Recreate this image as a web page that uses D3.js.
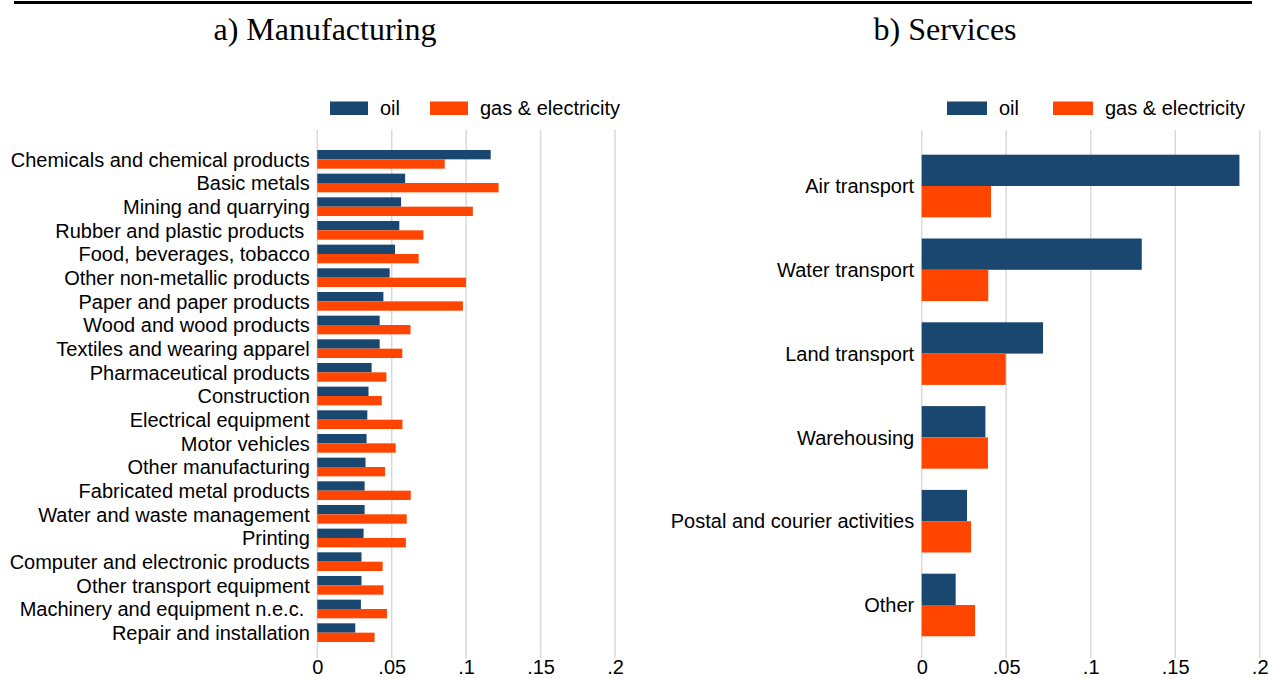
<!DOCTYPE html>
<html>
<head>
<meta charset="utf-8">
<script src="https://cdn.jsdelivr.net/npm/d3@7"></script>
<style>
  html, body { margin: 0; padding: 0; background: #fff; }
  svg { display: block; }
  text { font-family: "Liberation Sans", Arial, Helvetica, sans-serif; fill: #000; }
  .title { font-family: "Liberation Serif", "Times New Roman", serif; }
</style>
</head>
<body>
<svg id="chart" width="1269" height="679"></svg>
<script>
// Energy intensity by sector: oil vs gas & electricity
const manufCategories = [
  "Chemicals and chemical products", "Basic metals", "Mining and quarrying",
  "Rubber and plastic products ", "Food, beverages, tobacco", "Other non-metallic products",
  "Paper and paper products", "Wood and wood products", "Textiles and wearing apparel",
  "Pharmaceutical products", "Construction", "Electrical equipment", "Motor vehicles",
  "Other manufacturing", "Fabricated metal products", "Water and waste management",
  "Printing", "Computer and electronic products", "Other transport equipment",
  "Machinery and equipment n.e.c. ", "Repair and installation"
];
const manufOil = [0.1165, 0.0590, 0.0563, 0.0551, 0.0522, 0.0486, 0.0444, 0.0419, 0.0419,
  0.0365, 0.0344, 0.0336, 0.0331, 0.0324, 0.0318, 0.0318, 0.0311, 0.0297, 0.0297, 0.0293, 0.0255];
const manufGas = [0.0856, 0.1218, 0.1045, 0.0713, 0.0681, 0.0999, 0.0978, 0.0626, 0.0571,
  0.0464, 0.0433, 0.0572, 0.0527, 0.0455, 0.0628, 0.0601, 0.0595, 0.0439, 0.0444, 0.0468, 0.0385];

const servCategories = [
  "Air transport", "Water transport", "Land transport", "Warehousing",
  "Postal and courier activities", "Other"
];
const servOil = [0.1880, 0.1302, 0.0718, 0.0377, 0.0268, 0.0201];
const servGas = [0.0410, 0.0394, 0.0497, 0.0392, 0.0292, 0.0316];

const tickValues = [0, 0.05, 0.1, 0.15, 0.2];
const tickLabels = ["0", ".05", ".1", ".15", ".2"];

const seriesNames = ["oil", "gas & electricity"];
const seriesColors = ["#1a476f", "#ff4500"];

const svg = d3.select("#chart");
const FONT = 20;

// rule across the top
svg.append("line")
  .attr("x1", 14).attr("x2", 1252).attr("y1", 2.5).attr("y2", 2.5)
  .attr("stroke", "#000").attr("stroke-width", 3);

function drawPanel(cfg) {
  const g = svg.append("g");

  g.append("text").attr("class", "title")
    .attr("x", cfg.titleX).attr("y", 40)
    .attr("text-anchor", "middle")
    .style("font-size", "32px")
    .text(cfg.title);

  const x = d3.scaleLinear().domain([0, 0.2]).range(cfg.xRange);
  const y = d3.scaleBand().domain(cfg.categories).range(cfg.yRange)
    .paddingInner(cfg.padIn).paddingOuter(cfg.padIn / 2);

  // vertical grid lines
  g.append("g").selectAll("line").data(tickValues).join("line")
    .attr("x1", d => x(d)).attr("x2", d => x(d))
    .attr("y1", 130).attr("y2", 658)
    .attr("stroke", "#d9d9d9").attr("stroke-width", 1.5);

  // bottom axis labels
  const axis = d3.axisBottom(x).tickValues(tickValues)
    .tickFormat((d, i) => tickLabels[i]).tickSize(0).tickPadding(0);
  const ax = g.append("g").attr("transform", "translate(0,660)").call(axis);
  ax.select(".domain").remove();
  ax.selectAll("text")
    .attr("y", 14).attr("dy", 0)
    .style("font-size", FONT + "px")
    .style("font-family", "'Liberation Sans', Arial, sans-serif")
    .attr("fill", "#000");

  const half = y.bandwidth() / 2;
  const rows = cfg.categories.map((c, i) => ({ c, oil: cfg.oil[i], gas: cfg.gas[i] }));

  g.append("g").selectAll("rect").data(rows).join("rect")
    .attr("x", x(0)).attr("y", d => y(d.c))
    .attr("width", d => x(d.oil) - x(0)).attr("height", half)
    .attr("fill", seriesColors[0]);
  g.append("g").selectAll("rect").data(rows).join("rect")
    .attr("x", x(0)).attr("y", d => y(d.c) + half)
    .attr("width", d => x(d.gas) - x(0)).attr("height", half)
    .attr("fill", seriesColors[1]);

  // category labels
  g.append("g").selectAll("text").data(cfg.categories).join("text")
    .attr("x", x(0) - 7.5).attr("y", d => y(d) + half)
    .attr("dy", "0.36em")
    .attr("text-anchor", "end")
    .style("font-size", FONT + "px")
    .style("white-space", "pre")
    .text(d => d);

  // legend
  const lg = g.append("g");
  cfg.legendX.forEach((lx, i) => {
    lg.append("rect").attr("x", lx).attr("y", 101.5)
      .attr("width", cfg.swatchW).attr("height", 13.5)
      .attr("fill", seriesColors[i]);
    lg.append("text").attr("x", lx + cfg.swatchW + 12).attr("y", 115)
      .style("font-size", FONT + "px")
      .text(seriesNames[i]);
  });
}

drawPanel({
  title: "a) Manufacturing", titleX: 325,
  categories: manufCategories, oil: manufOil, gas: manufGas,
  xRange: [317.3, 615], yRange: [147.5, 644.5], padIn: 0.21,
  legendX: [330, 430], swatchW: 38
});

drawPanel({
  title: "b) Services", titleX: 945,
  categories: servCategories, oil: servOil, gas: servGas,
  xRange: [921.7, 1259.7], yRange: [144.1, 646.9], padIn: 0.253,
  legendX: [947, 1053], swatchW: 40
});
</script>
</body>
</html>
